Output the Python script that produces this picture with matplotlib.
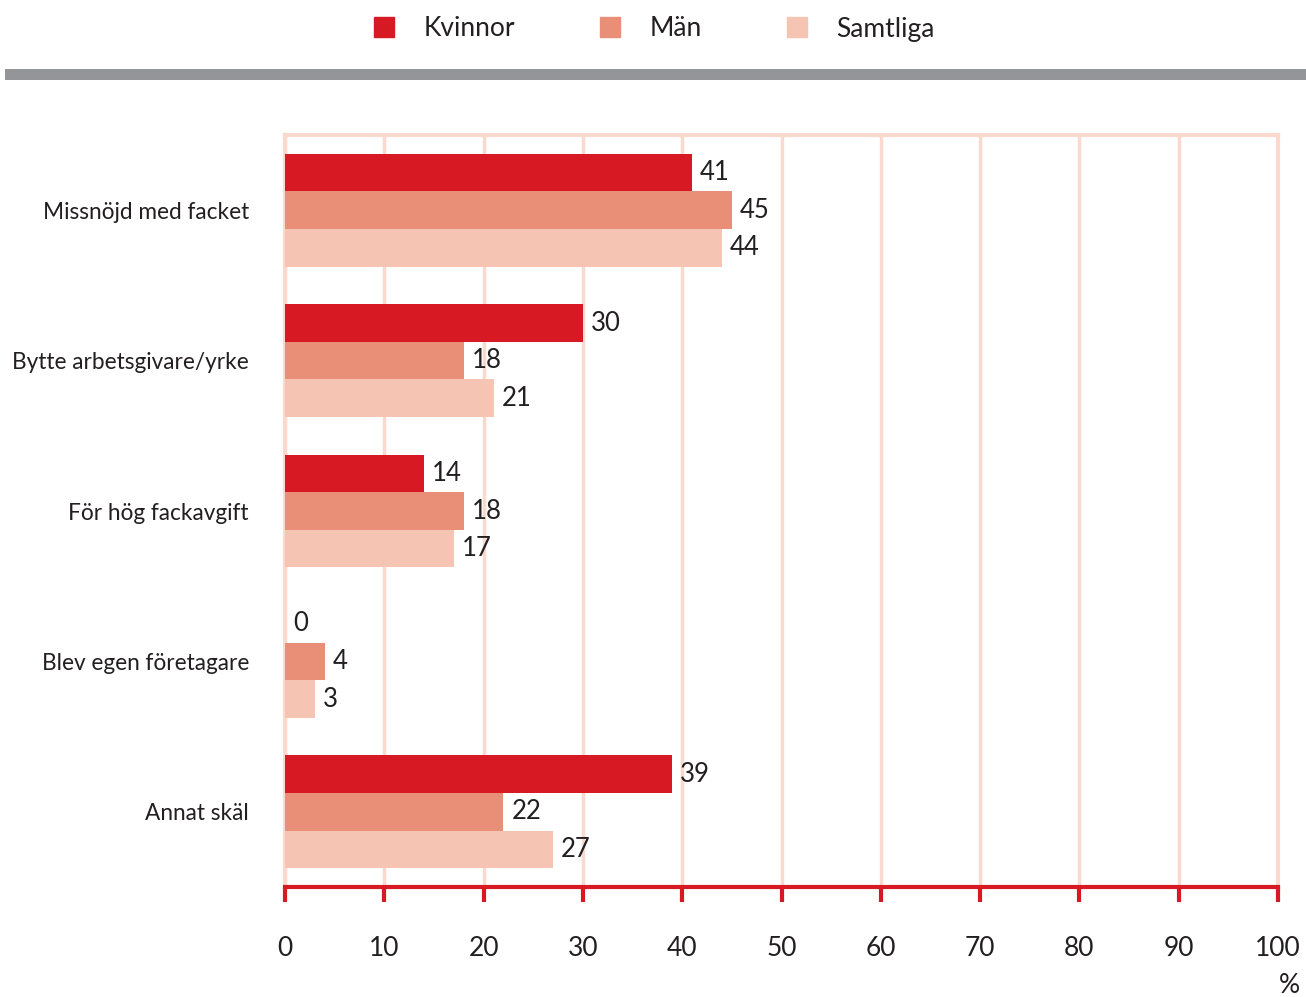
import numpy as np
import matplotlib.pyplot as plt
from matplotlib.patches import Rectangle
from matplotlib.lines import Line2D

# Data
categories = ['Missnöjd med facket', 'Bytte arbetsgivare/yrke', 'För hög fackavgift',
              'Blev egen företagare', 'Annat skäl']
kvinnor = [41, 30, 14, 0, 39]
man = [45, 18, 18, 4, 22]
samtliga = [44, 21, 17, 3, 27]
series_names = ['Kvinnor', 'Män', 'Samtliga']
colors = ['#d71923', '#e98f78', '#f5c4b3']

plt.rcParams['font.family'] = ['Lato', 'DejaVu Sans']
text_color = '#231f20'
grid_color = '#fbd9ce'

fig = plt.figure(figsize=(13.06, 9.97), dpi=100)
ax = fig.add_axes([285 / 1306, 1 - 887 / 997, (1278 - 285) / 1306, (887 - 135) / 997])

y = np.arange(len(categories))
h = 0.25
for i, (vals, col) in enumerate(zip([kvinnor, man, samtliga], colors)):
    pos = y - h + i * h
    ax.barh(pos, vals, height=h, color=col, zorder=3)
    for p, v in zip(pos, vals):
        ax.text(v + 0.8, p, str(v), va='center', ha='left', fontsize=18.5, color=text_color)

ax.set_xlim(0, 100)
ax.set_ylim(len(categories) - 0.5, -0.5)
ax.set_xticks(np.arange(0, 101, 10))
ax.set_yticks(y)
ax.set_yticklabels(categories, fontsize=16.3, color=text_color)
ax.tick_params(axis='y', length=0, pad=26)
ax.tick_params(axis='x', direction='out', length=11, width=3, color='#d71923',
               labelsize=19, labelcolor=text_color, pad=24)
ax.grid(axis='x', color=grid_color, linewidth=2.5, zorder=0)

for s in ['top', 'left', 'right']:
    ax.spines[s].set_color(grid_color)
    ax.spines[s].set_linewidth(3)
ax.spines['bottom'].set_color('#d71923')
ax.spines['bottom'].set_linewidth(3)
ax.spines['bottom'].set_zorder(4)

fig.text(1300 / 1306, 1 - 985 / 997, '%', ha='right', va='center', fontsize=19, color=text_color)

# gray band under the legend
fig.add_artist(Rectangle((5 / 1306, 1 - 80 / 997), 1, 11 / 997, transform=fig.transFigure,
                         color='#939598', lw=0))

handles = [Line2D([], [], marker='s', linestyle='none', markersize=14, color=c) for c in colors]
fig.legend(handles, series_names, loc='center', bbox_to_anchor=(646 / 1306, 1 - 29 / 997),
           ncol=3, frameon=False, fontsize=19, handletextpad=0.5, columnspacing=2.6,
           labelcolor=text_color)

fig.savefig('out.png', dpi=100)
